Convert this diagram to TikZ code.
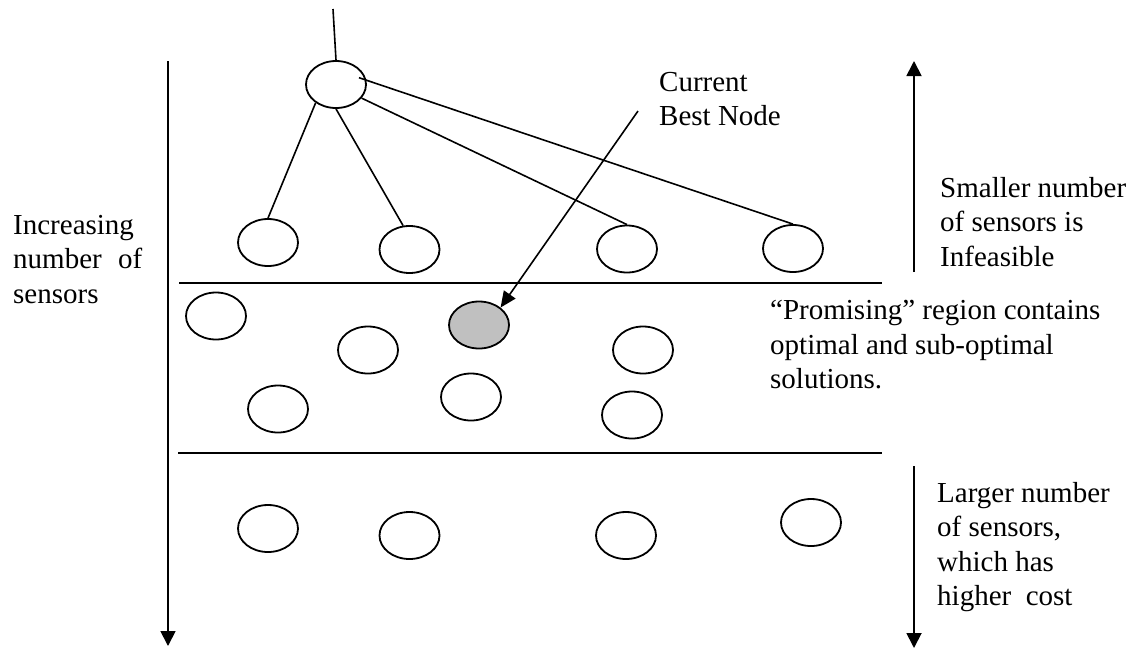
\documentclass[tikz,border=0pt]{standalone}
\usepackage{fontspec}
\setmainfont{Liberation Serif}
\usetikzlibrary{arrows.meta,calc,shapes.geometric}
\definecolor{bestgray}{HTML}{C0C0C0}
\begin{document}
\begin{tikzpicture}[x=1pt,y=-1pt,
  state/.style={ellipse,draw,line width=1.8pt,minimum width=60pt,minimum height=47pt,inner sep=0pt},
  bestnode/.style={state,fill=bestgray},
  link/.style={line width=1.6pt},
  band/.style={line width=2pt},
  axis/.style={line width=1.8pt,-{Triangle[length=15pt,width=15pt]}},
  label/.style={anchor=north west,inner sep=0pt,align=left,font=\fontsize{29}{34.5}\selectfont}
]
\useasboundingbox (0,0) rectangle (1135,649);

% search tree: root and its children
\node[state] (root) at (336,84.5) {};
\node[state] (c1) at (268,242.5) {};
\node[state] (c2) at (409.5,249.5) {};
\node[state] (c3) at (627,249) {};
\node[state] (c4) at (793,248.5) {};

% promising region
\node[state] (p1) at (216,316) {};
\node[state] (p2) at (368,350) {};
\node[bestnode] (best) at (479,325) {};
\node[state] (p4) at (643,350) {};
\node[state] (p5) at (278,409) {};
\node[state] (p6) at (471,397) {};
\node[state] (p7) at (632,415) {};

% costly region
\node[state] (l1) at (268,528.5) {};
\node[state] (l2) at (409.5,535.5) {};
\node[state] (l3) at (626,535.5) {};
\node[state] (l4) at (811,522.5) {};

% tree edges
\coordinate (stem) at (333,9);
\coordinate (rootin) at ($(root.center)+(23,-6.8)$);
\draw[link] (stem) -- (root.north);
\draw[link] (root.-138) -- (c1.north);
\draw[link] (root.south) -- (c2.105);
\draw[link] (root.-28) -- (c3.north);
\draw[link] (rootin) -- (c4.north);

% region boundaries
\coordinate (b1l) at (179,283);
\coordinate (b1r) at (882,283);
\coordinate (b2l) at (178,453);
\coordinate (b2r) at (882,453);
\draw[band] (b1l) -- (b1r);
\draw[band] (b2l) -- (b2r);

% axes
\coordinate (ltop) at (168,61);
\coordinate (lbot) at (168,646);
\draw[axis] (ltop) -- (lbot);
\coordinate (ubot) at (914,272);
\coordinate (utop) at (914,61);
\draw[axis] (ubot) -- (utop);
\coordinate (dtop) at (914,466);
\coordinate (dbot) at (914,648);
\draw[axis] (dtop) -- (dbot);

% pointer to the current best node
\coordinate (cbtail) at (638,111);
\draw[link,-{Triangle[length=16pt,width=14pt]}] (cbtail) -- (best.39);

% labels
\node[label] (tcur) at (659,72) {Current\\Best Node};
\node[label] (tinc) at (13,215) {Increasing\\number\hspace{9pt} of\\sensors};
\node[label] (tsma) at (940,177) {Smaller number\\of sensors is\\Infeasible};
\node[label] (tpro) at (770,300) {“Promising” region contains\\optimal and sub-optimal\\solutions.};
\node[label] (tlar) at (937,482) {Larger number\\of sensors,\\which has\\higher~ cost};
\end{tikzpicture}
\end{document}
